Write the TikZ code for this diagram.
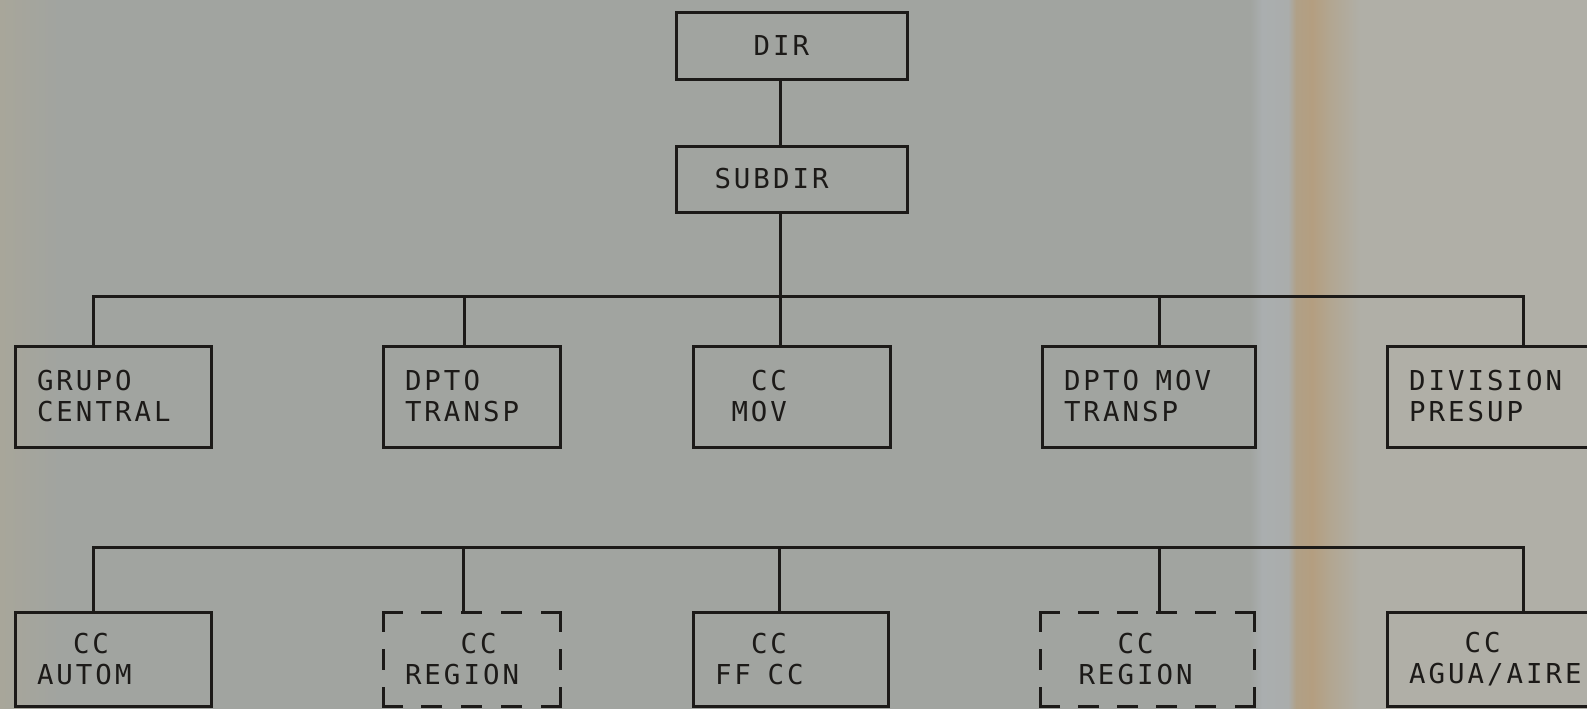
\documentclass[tikz,border=0pt]{standalone}
\usepackage{fontspec}
\newfontfamily\chartfont[LetterSpace=11]{DejaVu Sans Mono}
\definecolor{paper}{RGB}{161,164,160}
\definecolor{paperR}{RGB}{176,175,167}
\definecolor{paperL}{RGB}{168,166,154}
\definecolor{foldA}{RGB}{170,174,175}
\definecolor{foldB}{RGB}{170,173,172}
\definecolor{foldC}{RGB}{176,160,135}
\definecolor{foldD}{RGB}{180,158,128}
\definecolor{foldE}{RGB}{178,166,145}
\definecolor{ink}{RGB}{28,26,24}
\pgfdeclarehorizontalshading{fold}{100bp}{color(0bp)=(paper); color(25bp)=(paper); color(30.5bp)=(foldA); color(42.3bp)=(foldB); color(45.9bp)=(foldC); color(53.2bp)=(foldD); color(61.4bp)=(foldE); color(75bp)=(paperR); color(100bp)=(paperR)}
\begin{document}
\begin{tikzpicture}[x=1pt,y=-1pt,
  box/.style={draw=ink, line width=3pt, rectangle, anchor=north west,
    inner xsep=22pt, inner ysep=0pt, outer sep=0pt, align=left,
    font=\chartfont\fontsize{27.4pt}{31pt}\selectfont, text=ink},
  ghost/.style={box, draw=none},
  link/.style={draw=ink, line width=3pt},
  dashside/.style={draw=ink, line width=3pt, line cap=rect}]
\useasboundingbox (0,0) rectangle (1587,709);
\clip (0,0) rectangle (1587,709);
% paper
\fill[paper] (0,0) rectangle (1587,709);
\fill[left color=paperL, right color=paper] (0,0) rectangle (60,709);
\fill[shading=fold] (1250,0) rectangle (1360,709);
\fill[paperR] (1360,0) rectangle (1587,709);

% boxes
\node[box, minimum width=231pt, minimum height=66pt, text width=187pt] (dir) at (676,13) {\hphantom{XXX}DIR};
\node[box, minimum width=231pt, minimum height=66pt, text width=187pt] (subdir) at (676,146) {\hphantom{X}SUBDIR};

\node[box, minimum width=196pt, minimum height=101pt, text width=152pt] (grupo) at (15,346) {GRUPO\\CENTRAL};
\node[box, minimum width=177pt, minimum height=101pt, text width=133pt] (dptot) at (383,346) {DPTO\\TRANSP};
\node[box, minimum width=197pt, minimum height=101pt, text width=153pt] (ccmov) at (693,346) {\hphantom{XX}CC\\\hphantom{X}MOV};
\node[box, minimum width=213pt, minimum height=101pt, text width=169pt] (dptomov) at (1042,346) {DPTO\hphantom{X}MOV\\TRANSP};
\node[box, minimum width=230pt, minimum height=101pt, text width=186pt] (division) at (1387,346) {DIVISION\\PRESUP};

\node[box, minimum width=196pt, minimum height=94pt, text width=152pt] (autom) at (15,612) {\hphantom{XX}CC\\AUTOM};
\node[ghost, minimum width=177pt, minimum height=94pt, text width=133pt] (reg1) at (383,612) {\hphantom{XXX}CC\\REGION};
\node[box, minimum width=195pt, minimum height=94pt, text width=151pt] (ffcc) at (693,612) {\hphantom{XX}CC\\FF\hphantom{X}CC};
\node[ghost, minimum width=214pt, minimum height=94pt, text width=170pt] (reg2) at (1040,612) {\hphantom{XXX}CC\\\hphantom{X}REGION};
\node[box, minimum width=230pt, minimum height=94pt, text width=186pt] (agua) at (1387,612) {\hphantom{XXX}CC\\AGUA/AIRE};

% dashed outlines
\draw[dashside, dash pattern=on 18pt off 21.75pt] (reg1.north west) -- (reg1.north east);
\draw[dashside, dash pattern=on 18pt off 21.75pt] (reg1.south west) -- (reg1.south east);
\draw[dashside, dash pattern=on 18pt off 20pt] (reg1.north west) -- (reg1.south west);
\draw[dashside, dash pattern=on 18pt off 20pt] (reg1.north east) -- (reg1.south east);
\draw[dashside, dash pattern=on 18pt off 21.2pt] (reg2.north west) -- (reg2.north east);
\draw[dashside, dash pattern=on 18pt off 21.2pt] (reg2.south west) -- (reg2.south east);
\draw[dashside, dash pattern=on 18pt off 20pt] (reg2.north west) -- (reg2.south west);
\draw[dashside, dash pattern=on 18pt off 20pt] (reg2.north east) -- (reg2.south east);

% connectors
\coordinate (spine) at (780,296);
\coordinate (ub0) at (93,296);
\coordinate (ub1) at (464,296);
\coordinate (ub3) at (1159,296);
\coordinate (ub4) at (1523,296);
\coordinate (lb0) at (93,547);
\coordinate (lb1) at (463,547);
\coordinate (lb2) at (779,547);
\coordinate (lb3) at (1159,547);
\coordinate (lb4) at (1523,547);

\draw[link] (dir.south -| spine) -- (subdir.north -| spine);
\draw[link] (subdir.south -| spine) -- (ccmov.north -| spine);
\draw[link] (ub0 |- grupo.north) -- (ub0) -- (ub4) -- (ub4 |- division.north);
\draw[link] (ub1) -- (ub1 |- dptot.north);
\draw[link] (ub3) -- (ub3 |- dptomov.north);

\draw[link] (lb0 |- autom.north) -- (lb0) -- (lb4) -- (lb4 |- agua.north);
\draw[link] (lb1) -- (lb1 |- reg1.north);
\draw[link] (lb2) -- (lb2 |- ffcc.north);
\draw[link] (lb3) -- (lb3 |- reg2.north);
\end{tikzpicture}
\end{document}
